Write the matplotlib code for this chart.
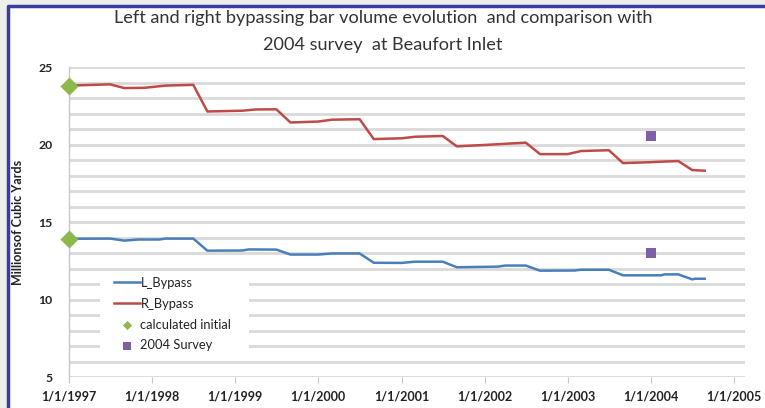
import matplotlib
matplotlib.use("Agg")
import matplotlib.pyplot as plt
from matplotlib.patches import Rectangle
from matplotlib.lines import Line2D
import numpy as np
import pandas as pd

# ---------------- data ----------------
r_dates = ["1997-01-01", "1997-07-01", "1997-09-01", "1997-12-01", "1998-03-01", "1998-07-01",
           "1998-09-01", "1999-02-01", "1999-04-01", "1999-07-01", "1999-09-01", "2000-01-01",
           "2000-03-01", "2000-07-01", "2000-09-01", "2001-01-01", "2001-03-01", "2001-07-01",
           "2001-09-01", "2002-01-01", "2002-07-01", "2002-09-01", "2003-01-01", "2003-03-01",
           "2003-07-01", "2003-09-01", "2004-01-01", "2004-03-01", "2004-05-01", "2004-07-01",
           "2004-08-25"]
r_values = [23.80, 23.88, 23.64, 23.66, 23.80, 23.85,
            22.13, 22.18, 22.26, 22.27, 21.42, 21.48,
            21.60, 21.63, 20.35, 20.40, 20.50, 20.55,
            19.88, 19.97, 20.12, 19.38, 19.38, 19.58,
            19.63, 18.80, 18.86, 18.90, 18.93, 18.35,
            18.31]

l_dates = ["1997-01-01", "1997-07-01", "1997-09-01", "1997-11-01", "1998-02-01", "1998-03-01",
           "1998-07-01", "1998-09-01", "1999-02-01", "1999-03-01", "1999-07-01", "1999-09-01",
           "2000-01-01", "2000-03-01", "2000-07-01", "2000-09-01", "2001-01-01", "2001-03-01",
           "2001-07-01", "2001-09-01", "2002-03-01", "2002-04-01", "2002-07-01", "2002-09-01",
           "2003-02-01", "2003-03-01", "2003-07-01", "2003-09-01", "2004-02-15", "2004-03-01",
           "2004-05-01", "2004-07-01", "2004-07-15", "2004-08-25"]
l_values = [13.92, 13.93, 13.80, 13.87, 13.87, 13.93,
            13.93, 13.15, 13.16, 13.23, 13.22, 12.90,
            12.90, 12.97, 12.97, 12.37, 12.36, 12.44,
            12.44, 12.08, 12.12, 12.19, 12.19, 11.86,
            11.87, 11.92, 11.92, 11.56, 11.56, 11.62,
            11.62, 11.30, 11.34, 11.34]

initial_dates = ["1997-01-01", "1997-01-01"]
initial_values = [23.8, 13.9]

survey_dates = ["2004-01-01", "2004-01-01"]
survey_values = [20.55, 13.02]

x_tick_years = [1997, 1998, 1999, 2000, 2001, 2002, 2003, 2004, 2005]

# ---------------- figure ----------------
W, H = 765, 408
fig = plt.figure(figsize=(W / 100, H / 100), dpi=100, facecolor="#eeeeea")

# white panel with navy border on left and top
x0 = 7.5 / W
ytop = 1 - 5.5 / H
fig.patches.append(Rectangle((x0, 0), 1 - x0, ytop, transform=fig.transFigure,
                             facecolor="white", edgecolor="none", linewidth=0, zorder=-2))
fig.lines.append(Line2D([x0, x0, 1.0], [0, ytop, ytop], transform=fig.transFigure,
                        color="#3b3ba6", lw=2.5, zorder=-1, solid_capstyle="butt"))

AX_L, AX_R, AX_T, AX_B = 69, 745, 67, 377
ax = fig.add_axes([AX_L / W, 1 - AX_B / H, (AX_R - AX_L) / W, (AX_B - AX_T) / H])
ax.set_facecolor("white")

font = "Lato"

rd = pd.to_datetime(r_dates)
ld = pd.to_datetime(l_dates)
ax.plot(ld, l_values, color="#4a7ebb", lw=1.8, label="L_Bypass", zorder=3)
ax.plot(rd, r_values, color="#be4b48", lw=1.8, label="R_Bypass", zorder=3)
ax.scatter(pd.to_datetime(initial_dates), initial_values, marker="D", s=85, color="#8db84a",
           label="calculated initial", zorder=4, clip_on=False, linewidths=0)
ax.scatter(pd.to_datetime(survey_dates), survey_values, marker="s", s=45, color="#7f5fa6",
           label="2004 Survey", zorder=4, linewidths=0)

# plot area runs a little past the last date tick (as in the reference)
ax.set_xlim(pd.Timestamp("1997-01-01"), pd.Timestamp("2005-01-01") + pd.Timedelta(days=48))
ax.set_ylim(5, 25)
xt = [pd.Timestamp(f"{y}-01-01") for y in x_tick_years]
ax.set_xticks(xt)
ax.set_xticklabels([f"1/1/{y}" for y in x_tick_years], fontfamily=font, fontweight="bold",
                   fontsize=9, color="#222222")
ax.set_yticks([5, 10, 15, 20, 25])
ax.set_yticklabels(["5", "10", "15", "20", "25"], fontfamily=font, fontweight="bold",
                   fontsize=8.8, color="#222222")
ax.set_yticks(np.arange(5, 26, 1), minor=True)
ax.grid(True, which="both", axis="y", color="#d9d9d9", lw=2)
ax.set_axisbelow(True)
for s in ["top", "right", "bottom"]:
    ax.spines[s].set_visible(False)
ax.spines["left"].set_color("#c8c8c8")
ax.spines["left"].set_linewidth(1)
ax.tick_params(axis="y", which="both", length=0, pad=12)
ax.tick_params(axis="x", length=4, color="#c8c8c8", pad=6)

ax.set_ylabel("Millionsof Cubic Yards", fontfamily=font, fontweight="bold", fontsize=9,
              color="#222222", labelpad=10)

fig.text(383 / W, 1 - 18 / H, "Left and right bypassing bar volume evolution  and comparison with",
         ha="center", va="center", fontfamily=font, fontsize=13.1, color="#333333")
fig.text(383 / W, 1 - 45 / H, "2004 survey  at Beaufort Inlet",
         ha="center", va="center", fontfamily=font, fontsize=13.1, color="#333333")

# white backdrop behind the legend (covers gridlines, below data)
def px_to_ax(x, y):
    return (x - AX_L) / (AX_R - AX_L), 1 - (y - AX_T) / (AX_B - AX_T)

bx0, by0 = px_to_ax(100, 355)
bx1, by1 = px_to_ax(249, 274)
ax.add_patch(Rectangle((bx0, by0), bx1 - bx0, by1 - by0, transform=ax.transAxes,
                       facecolor="white", edgecolor="none", zorder=1))

leg = ax.legend(loc="upper left", bbox_to_anchor=px_to_ax(114, 277),
                prop={"family": font, "size": 9.3}, frameon=False, handlelength=2.0,
                handletextpad=0.05, labelspacing=0.68, borderaxespad=0, borderpad=0,
                markerscale=1)
hs = leg.legend_handles
hs[2].set_sizes([22])
hs[3].set_sizes([30])
for t in leg.get_texts():
    t.set_color("#222222")

fig.savefig("out.png", dpi=100, facecolor=fig.get_facecolor())
